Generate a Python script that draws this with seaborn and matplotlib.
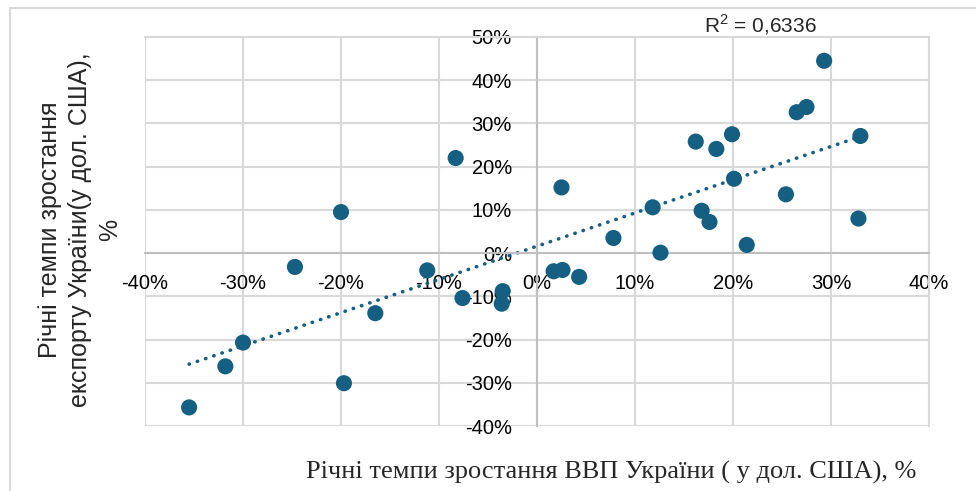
import matplotlib
matplotlib.use("Agg")
import matplotlib.pyplot as plt
from matplotlib.patches import Rectangle
from matplotlib.ticker import PercentFormatter, MultipleLocator
import seaborn as sns
import pandas as pd

# Річні темпи зростання ВВП (x) та експорту (y), %
gdp_growth = [-35.5, -31.8, -30.0, -24.7, -20.0, -19.7, -16.5, -11.2, -8.3, -7.6,
              -3.5, -3.6, 1.7, 2.6, 4.3, 2.5, 7.8, 11.8, 12.6, 16.2,
              16.8, 17.6, 18.3, 19.9, 20.1, 21.4, 25.4, 26.5, 27.5, 29.3,
              33.0, 32.8]
export_growth = [-35.7, -26.2, -20.7, -3.2, 9.5, -30.1, -13.9, -4.0, 22.0, -10.4,
                 -8.8, -11.7, -4.2, -3.9, -5.5, 15.2, 3.5, 10.6, 0.1, 25.8,
                 9.8, 7.2, 24.1, 27.5, 17.2, 1.9, 13.6, 32.6, 33.8, 44.5,
                 27.1, 8.0]
r2_text = "R$^2$ = 0,6336"

df = pd.DataFrame({"gdp": gdp_growth, "exp": export_growth})

color = "#156082"

sns.set_style("white")
plt.rcParams['font.family'] = ['Liberation Sans', 'DejaVu Sans']
plt.rcParams['mathtext.fontset'] = 'custom'
plt.rcParams['mathtext.rm'] = 'Liberation Sans'
plt.rcParams['axes.unicode_minus'] = False

fig = plt.figure(figsize=(9.76, 4.91), dpi=100)
ax = fig.add_axes([145/976, 1 - 426/491, (929-145)/976, (426-37)/491])

# Chart border
fig.patches.append(Rectangle((10/976, -0.1), 1.2, 483/491 + 0.1, transform=fig.transFigure,
                             fill=False, edgecolor="#d9d9d9", linewidth=1.5))

sns.regplot(data=df, x="gdp", y="exp", ax=ax, scatter=False, ci=None,
            line_kws=dict(color=color, linewidth=2.6, linestyle=(0, (0.1, 2.3)),
                          dash_capstyle="round"))
sns.scatterplot(data=df, x="gdp", y="exp", ax=ax, color=color, s=135,
                edgecolor="none", zorder=3)

ax.set_xlim(-40, 40)
ax.set_ylim(-40, 50)
ax.xaxis.set_major_locator(MultipleLocator(10))
ax.yaxis.set_major_locator(MultipleLocator(10))
ax.xaxis.set_major_formatter(PercentFormatter(decimals=0))
ax.yaxis.set_major_formatter(PercentFormatter(decimals=0))

ax.grid(True, color="#d9d9d9", linewidth=1.5)
ax.set_axisbelow(True)
for s in ["top", "right"]:
    ax.spines[s].set_color("#d9d9d9")
    ax.spines[s].set_linewidth(1.5)
ax.spines["left"].set_position(("data", 0))
ax.spines["bottom"].set_position(("data", 0))
for s in ["left", "bottom"]:
    ax.spines[s].set_color("#bfbfbf")
    ax.spines[s].set_linewidth(1.5)
ax.axhline(-40, color="#d9d9d9", linewidth=1.5, zorder=0)
ax.axvline(-40, color="#d9d9d9", linewidth=1.5, zorder=0)

ax.tick_params(axis="both", length=0, labelsize=14.5, labelcolor="black")
ax.tick_params(axis="y", pad=18)
ax.tick_params(axis="x", pad=15)
ax.set_xlabel("")
ax.set_ylabel("")

ax.text(0.785, 1.0, r2_text, transform=ax.transAxes, ha="center", va="bottom",
        fontsize=15)

fig.text(80/976, 1 - 230/491, "Річні темпи зростання\nекспорту України(у дол. США),\n%",
         rotation=90, ha="center", va="center", fontsize=18, linespacing=1.3)
fig.text(611/976, 1 - 472/491, "Річні темпи зростання ВВП України ( у дол. США), %",
         ha="center", va="center", fontsize=19, family=["Liberation Serif", "DejaVu Serif"])

plt.savefig("out.png", dpi=100)
